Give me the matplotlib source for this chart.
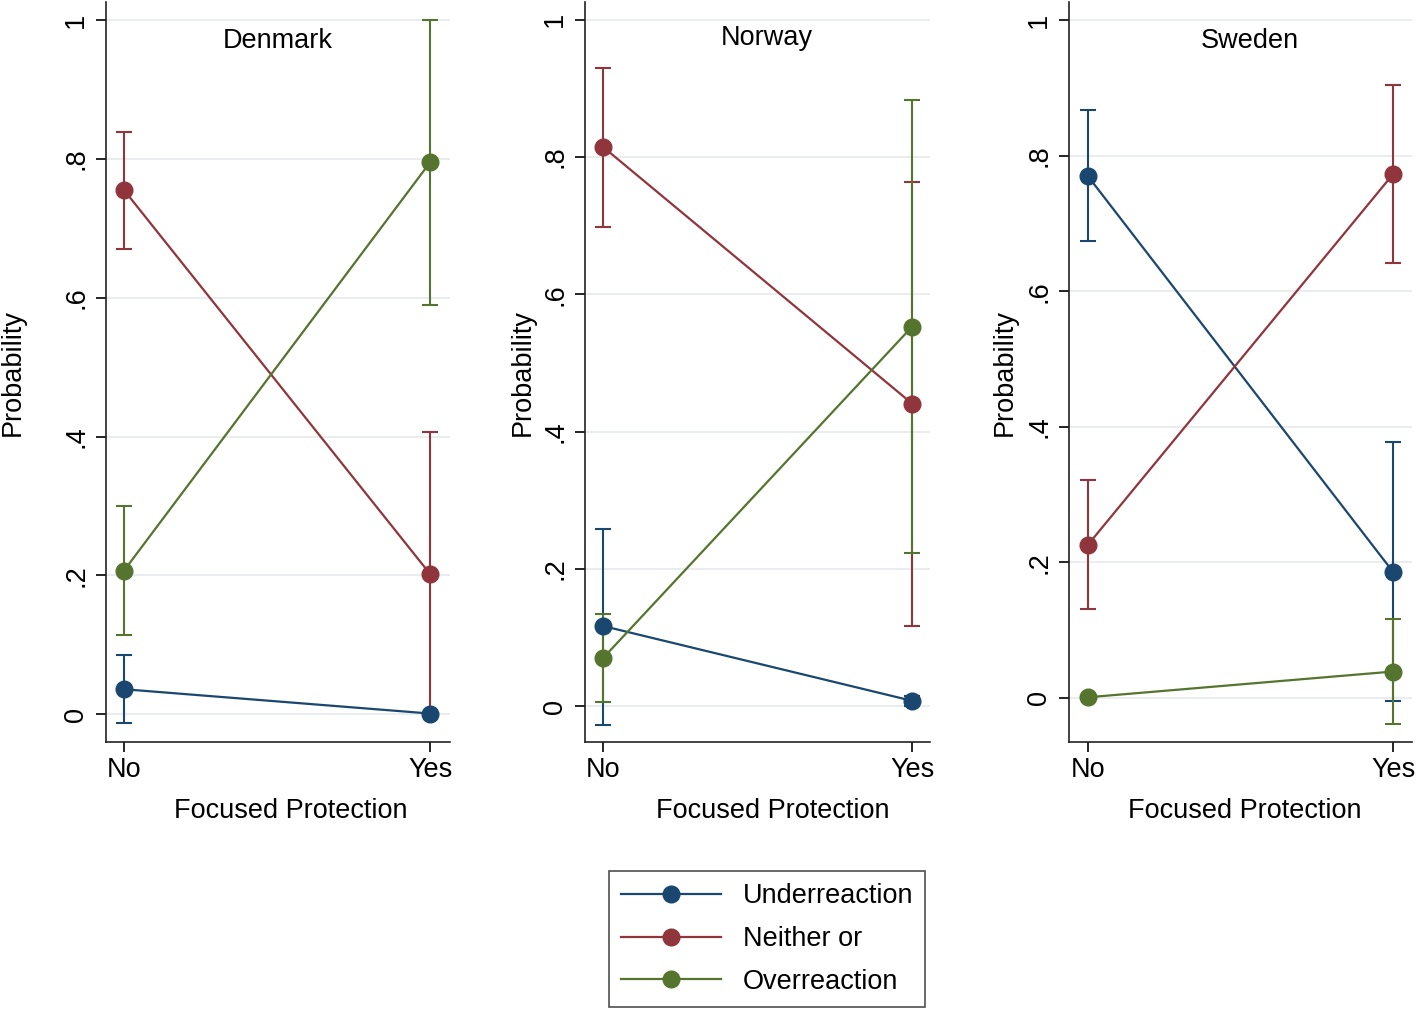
import matplotlib
matplotlib.use('Agg')
import matplotlib.pyplot as plt
from matplotlib.lines import Line2D

plt.rcParams['font.family'] = ['Liberation Sans', 'DejaVu Sans']

# data
countries = ['Denmark', 'Norway', 'Sweden']
categories = ['No', 'Yes']
series_names = ['Underreaction', 'Neither or', 'Overreaction']

under_est = [[0.036, 0.001], [0.117, 0.008], [0.770, 0.186]]
under_lo = [[-0.013, 0.001], [-0.027, 0.001], [0.675, -0.005]]
under_hi = [[0.086, 0.001], [0.259, 0.015], [0.868, 0.378]]

neither_est = [[0.755, 0.202], [0.815, 0.441], [0.226, 0.773]]
neither_lo = [[0.670, 0.000], [0.698, 0.117], [0.132, 0.642]]
neither_hi = [[0.839, 0.407], [0.930, 0.764], [0.321, 0.905]]

over_est = [[0.207, 0.795], [0.070, 0.553], [0.001, 0.039]]
over_lo = [[0.114, 0.590], [0.006, 0.224], [0.001, -0.039]]
over_hi = [[0.300, 1.000], [0.134, 0.883], [0.001, 0.117]]

yticks = [0, 0.2, 0.4, 0.6, 0.8, 1.0]
ytick_labels = ['0', '.2', '.4', '.6', '.8', '1']

colors = ['#1a476f', '#90353b', '#55752f']
fs = 19.5

# panel layout (pixels of 1418x1013 figure)
W, H = 1418, 1013
panel_left = [106, 585, 1069]
panel_width = [344, 345, 343]
ylims = [(-0.040, 1.026), (-0.052, 1.026), (-0.065, 1.027)]
xlims = [(-0.059, 1.065), (-0.058, 1.058), (-0.062, 1.062)]
title_x = [0.5, 0.528, 0.528]
title_y = [0.947, 0.951, 0.947]
xlabel_x = [0.538, 0.545, 0.513]
ylabel_x = [-0.233, -0.142, -0.149]

fig = plt.figure(figsize=(W / 100, H / 100), dpi=100)

for i, country in enumerate(countries):
    ax = fig.add_axes([panel_left[i] / W, (H - 742) / H, panel_width[i] / W, 740 / H])
    est = [under_est[i], neither_est[i], over_est[i]]
    lo = [under_lo[i], neither_lo[i], over_lo[i]]
    hi = [under_hi[i], neither_hi[i], over_hi[i]]
    xs = [0, 1]
    for k in range(3):
        yerr = [[est[k][j] - lo[k][j] for j in range(2)],
                [hi[k][j] - est[k][j] for j in range(2)]]
        ax.errorbar(xs, est[k], yerr=yerr, fmt='none', ecolor=colors[k],
                    elinewidth=1.5, capsize=5.8, capthick=1.5, zorder=3)
        ax.plot(xs, est[k], color=colors[k], lw=1.6, marker='o', ms=12,
                zorder=4)

    ax.set_ylim(*ylims[i])
    ax.set_xlim(*xlims[i])
    ax.set_yticks(yticks)
    ax.set_yticklabels(ytick_labels)
    ax.set_xticks(xs)
    ax.set_xticklabels(categories)
    ax.tick_params(axis='y', labelrotation=90, labelsize=fs, length=7,
                   width=1.2, pad=5)
    ax.tick_params(axis='x', labelsize=fs, length=7, width=1.2, pad=4)
    for lab in ax.get_yticklabels():
        lab.set_va('center')
    ax.grid(axis='y', color='#e8ecee', lw=1.3, zorder=0)
    ax.set_axisbelow(True)
    for s in ['top', 'right']:
        ax.spines[s].set_visible(False)
    for s in ['left', 'bottom']:
        ax.spines[s].set_linewidth(1.2)
        ax.spines[s].set_color('#222222')

    ax.set_ylabel('Probability', fontsize=fs)
    ax.yaxis.set_label_coords(ylabel_x[i], 0.5)
    ax.set_xlabel('Focused Protection', fontsize=fs)
    ax.xaxis.set_label_coords(xlabel_x[i], -0.075)
    ax.text(title_x[i], title_y[i], country, transform=ax.transAxes,
            ha='center', va='center', fontsize=fs)

handles = [Line2D([0], [0], color=c, lw=1.6, marker='o', ms=12) for c in colors]
leg = fig.legend(handles, series_names, loc='center',
                 bbox_to_anchor=(767 / W, 1 - 939 / H), fontsize=fs,
                 handlelength=3.7, labelspacing=0.62, handletextpad=0.8,
                 borderpad=0.45, borderaxespad=0, fancybox=False, frameon=True)
leg.get_frame().set_edgecolor('#222222')
leg.get_frame().set_linewidth(1.2)

fig.savefig('out.png', dpi=100)
